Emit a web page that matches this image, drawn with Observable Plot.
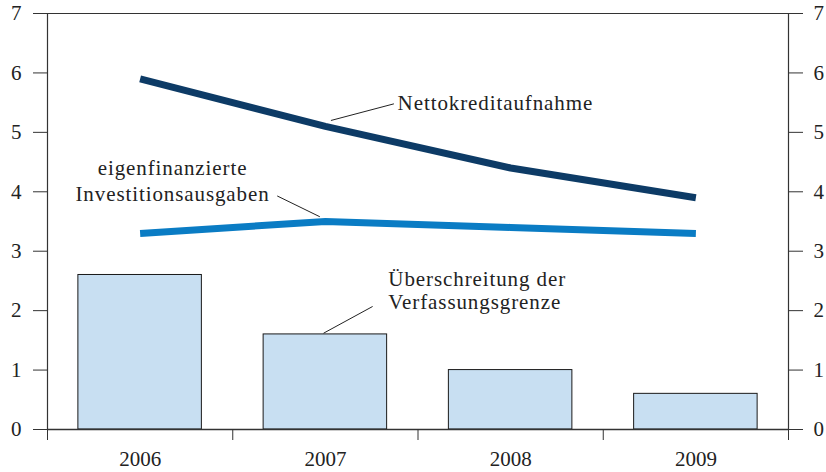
<!DOCTYPE html>
<html>
<head>
<meta charset="utf-8">
<script src="https://cdn.jsdelivr.net/npm/d3@7"></script>
<script src="https://cdn.jsdelivr.net/npm/@observablehq/plot@0.6"></script>
<style>
  html, body { margin: 0; padding: 0; background: #fff; }
  #chart { width: 826px; height: 472px; }
  #chart svg, #chart svg text { font-family: "Liberation Serif", "DejaVu Serif", serif !important; }
</style>
</head>
<body>
<div id="chart"></div>
<script>
const years = [2006, 2007, 2008, 2009];
const nettokredit = [5.9, 5.1, 4.4, 3.9];
const investition = [3.3, 3.5, 3.4, 3.3];
const ueberschreitung = [2.6, 1.6, 1.0, 0.6];
const yTicks = [0, 1, 2, 3, 4, 5, 6, 7];
const bandEdges = [2005.5, 2006.5, 2007.5, 2008.5, 2009.5];

// annotation labels (data coordinates)
const labels = [
  {text: "Nettokreditaufnahme", x: 2007.39, y: 5.50, anchor: "start"},
  {text: "eigenfinanzierte\nInvestitionsausgaben", x: 2006.175, y: 4.20, anchor: "middle"},
  {text: "Überschreitung der\nVerfassungsgrenze", x: 2007.34, y: 2.34, anchor: "start"}
];
const leaders = [
  {x1: 2007.03, y1: 5.20, x2: 2007.37, y2: 5.48},
  {x1: 2006.74, y1: 3.93, x2: 2006.97, y2: 3.58},
  {x1: 2006.99, y1: 1.62, x2: 2007.255, y2: 2.07}
];

const rows = years.map((year, i) => ({
  year, netto: nettokredit[i], invest: investition[i], ueber: ueberschreitung[i]
}));

const serif = "Liberation Serif";
const axisColor = "#333";
const chart = Plot.plot({
  width: 826,
  height: 472,
  marginLeft: 47,
  marginRight: 38,
  marginTop: 13,
  marginBottom: 43,
  style: {fontFamily: serif, fontSize: "21px", color: "#222", background: "#fff"},
  x: {domain: [2005.5, 2009.5]},
  y: {domain: [0, 7]},
  marks: [
    Plot.rectY(rows, {x1: d => d.year - 1/3, x2: d => d.year + 1/3, y1: 0, y2: "ueber", fill: "#c8dff2", stroke: "#1a1a1a", strokeWidth: 1}),
    Plot.ruleY([7], {x1: 2005.5, x2: 2009.5, stroke: axisColor, strokeWidth: 1.2}),
    Plot.ruleX([2005.5, 2009.5], {y1: 0, y2: 7, stroke: axisColor, strokeWidth: 1.2}),
    Plot.ruleY([0], {x1: 2005.5, x2: 2009.5, stroke: axisColor, strokeWidth: 1.6}),
    Plot.axisY({anchor: "left", ticks: yTicks, tickSize: 14, tickPadding: 12, tickFormat: d => String(d), stroke: axisColor, fontSize: 21, fontFamily: serif, label: null}),
    Plot.axisY({anchor: "right", ticks: yTicks, tickSize: 14, tickPadding: 11, tickFormat: d => String(d), stroke: axisColor, fontSize: 21, fontFamily: serif, label: null}),
    Plot.axisX({ticks: bandEdges, tickSize: 11, tickFormat: () => "", stroke: axisColor, label: null}),
    Plot.axisX({ticks: years, tickSize: 0, tickPadding: 22, tickFormat: d => String(d), fontSize: 21, fontFamily: serif, label: null}),
    Plot.line(rows, {x: "year", y: "invest", stroke: "#0a7cc4", strokeWidth: 7, strokeLinejoin: "round", strokeLinecap: "butt"}),
    Plot.line(rows, {x: "year", y: "netto", stroke: "#0d3b66", strokeWidth: 7, strokeLinejoin: "round", strokeLinecap: "butt"}),
    Plot.link(leaders, {x1: "x1", y1: "y1", x2: "x2", y2: "y2", stroke: "#222", strokeWidth: 1}),
    Plot.text(labels.filter(d => d.anchor === "start"), {x: "x", y: "y", text: "text", textAnchor: "start", fontSize: 21, fontFamily: serif, lineHeight: 1.1, fill: "#222"}),
    Plot.text(labels.filter(d => d.anchor === "middle"), {x: "x", y: "y", text: "text", textAnchor: "middle", fontSize: 21, fontFamily: serif, lineHeight: 1.2, fill: "#222"})
  ]
});
d3.select(chart).selectAll("g[aria-label='text'] text").style("letter-spacing", "0.9px");
document.getElementById("chart").appendChild(chart);
</script>
</body>
</html>
